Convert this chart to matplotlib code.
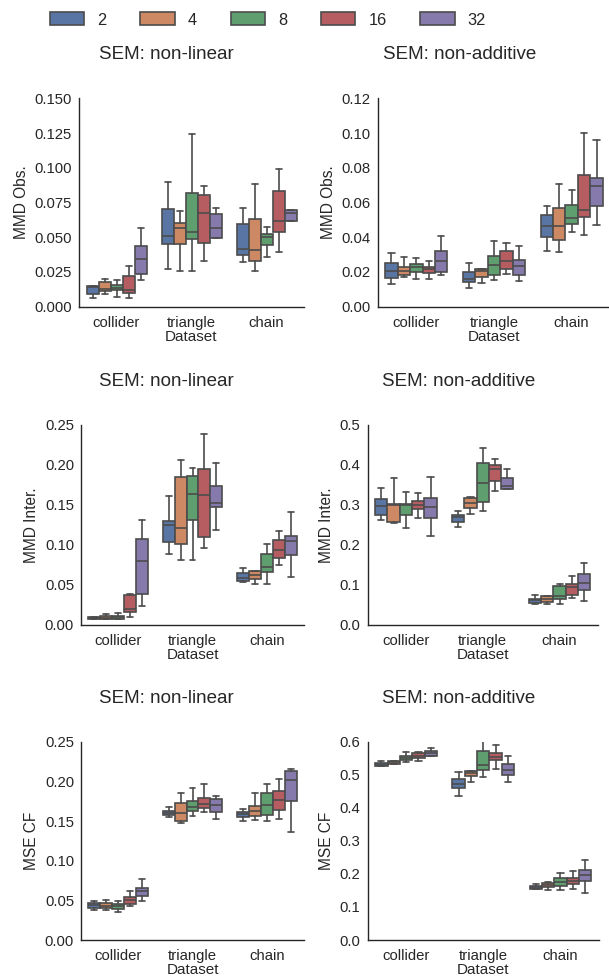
import colorsys

import matplotlib.pyplot as plt
import matplotlib.colors as mcolors
from matplotlib.patches import Patch
import seaborn as sns

datasets = ["collider", "triangle", "chain"]
hue_levels = ["2", "4", "8", "16", "32"]

# five-number summaries per (dataset, hue): whislo, q1, median, q3, whishi
obs_nonlinear = [
    (0.006, 0.009, 0.0145, 0.015, 0.015),
    (0.009, 0.011, 0.013, 0.0175, 0.020),
    (0.007, 0.012, 0.0137, 0.0156, 0.019),
    (0.006, 0.0096, 0.012, 0.022, 0.0295),
    (0.019, 0.0233, 0.034, 0.044, 0.0564),
    (0.0269, 0.0449, 0.0509, 0.0703, 0.090),
    (0.0257, 0.0449, 0.0564, 0.0605, 0.0689),
    (0.0259, 0.0485, 0.054, 0.0818, 0.1243),
    (0.0326, 0.0456, 0.0677, 0.0806, 0.0871),
    (0.0492, 0.0492, 0.0564, 0.0667, 0.071),
    (0.0324, 0.0372, 0.0413, 0.0593, 0.071),
    (0.0257, 0.0331, 0.0405, 0.0633, 0.0883),
    (0.036, 0.0441, 0.0499, 0.0521, 0.0573),
    (0.0391, 0.054, 0.0617, 0.083, 0.0988),
    (0.0617, 0.0617, 0.0677, 0.0693, 0.0693),
]
obs_nonadditive = [
    (0.0129, 0.0165, 0.0205, 0.0251, 0.0307),
    (0.0169, 0.0184, 0.0207, 0.0228, 0.0284),
    (0.0157, 0.020, 0.023, 0.0246, 0.028),
    (0.0161, 0.0192, 0.0215, 0.0228, 0.0263),
    (0.0184, 0.0198, 0.0263, 0.0322, 0.0409),
    (0.0107, 0.0144, 0.0157, 0.0198, 0.025),
    (0.0136, 0.0169, 0.0203, 0.0215, 0.0215),
    (0.0152, 0.018, 0.024, 0.0292, 0.0378),
    (0.0188, 0.0219, 0.0263, 0.0322, 0.0365),
    (0.0148, 0.0184, 0.0232, 0.0269, 0.0347),
    (0.0319, 0.0403, 0.0463, 0.0526, 0.0582),
    (0.0315, 0.0382, 0.0463, 0.057, 0.0704),
    (0.0432, 0.0474, 0.051, 0.0587, 0.067),
    (0.0415, 0.0514, 0.0559, 0.0756, 0.0998),
    (0.047, 0.0582, 0.0697, 0.0741, 0.0958),
]
inter_nonlinear = [
    (0.0075, 0.0079, 0.0088, 0.010, 0.0104),
    (0.0071, 0.0071, 0.0083, 0.0113, 0.0142),
    (0.0071, 0.0079, 0.010, 0.0117, 0.015),
    (0.0096, 0.0158, 0.0196, 0.0375, 0.0383),
    (0.0242, 0.0388, 0.080, 0.1079, 0.1308),
    (0.0888, 0.1038, 0.1254, 0.130, 0.1617),
    (0.0817, 0.1013, 0.1213, 0.1846, 0.2058),
    (0.0808, 0.1317, 0.1642, 0.1863, 0.1958),
    (0.0958, 0.110, 0.1625, 0.195, 0.2383),
    (0.1192, 0.1475, 0.1529, 0.1742, 0.2029),
    (0.0533, 0.055, 0.0592, 0.065, 0.0713),
    (0.0513, 0.0575, 0.0621, 0.0679, 0.0679),
    (0.0517, 0.0658, 0.0721, 0.0883, 0.1017),
    (0.075, 0.0842, 0.0933, 0.1058, 0.1179),
    (0.0596, 0.0875, 0.105, 0.1117, 0.1417),
]
inter_nonadditive = [
    (0.263, 0.274, 0.297, 0.314, 0.343),
    (0.256, 0.258, 0.300, 0.302, 0.3675),
    (0.243, 0.274, 0.300, 0.3025, 0.3325),
    (0.268, 0.291, 0.301, 0.311, 0.330),
    (0.223, 0.268, 0.294, 0.318, 0.369),
    (0.246, 0.258, 0.271, 0.275, 0.286),
    (0.278, 0.293, 0.305, 0.3175, 0.319),
    (0.285, 0.308, 0.354, 0.404, 0.443),
    (0.334, 0.359, 0.391, 0.401, 0.415),
    (0.341, 0.341, 0.348, 0.3675, 0.389),
    (0.052, 0.055, 0.0617, 0.065, 0.076),
    (0.053, 0.058, 0.066, 0.073, 0.073),
    (0.052, 0.065, 0.0717, 0.0967, 0.1017),
    (0.0667, 0.074, 0.095, 0.103, 0.1217),
    (0.060, 0.0867, 0.1058, 0.1267, 0.154),
]
cf_nonlinear = [
    (0.0382, 0.0408, 0.0441, 0.0466, 0.049),
    (0.0378, 0.0403, 0.0433, 0.0462, 0.050),
    (0.0349, 0.0395, 0.0433, 0.0454, 0.049),
    (0.0429, 0.045, 0.0508, 0.0546, 0.0622),
    (0.0492, 0.055, 0.0622, 0.0651, 0.0765),
    (0.1555, 0.157, 0.1605, 0.163, 0.168),
    (0.1479, 0.1496, 0.1597, 0.1723, 0.1857),
    (0.1563, 0.163, 0.168, 0.1748, 0.1916),
    (0.1609, 0.166, 0.171, 0.179, 0.1962),
    (0.1525, 0.1609, 0.1697, 0.1782, 0.1815),
    (0.1504, 0.155, 0.1584, 0.1609, 0.1655),
    (0.1513, 0.1559, 0.163, 0.1693, 0.1849),
    (0.1496, 0.1571, 0.1702, 0.1853, 0.197),
    (0.1521, 0.1639, 0.1765, 0.1874, 0.2034),
    (0.1366, 0.1748, 0.2013, 0.213, 0.2151),
]
cf_nonadditive = [
    (0.525, 0.527, 0.531, 0.5353, 0.543),
    (0.533, 0.533, 0.538, 0.542, 0.543),
    (0.538, 0.544, 0.552, 0.558, 0.5695),
    (0.541, 0.550, 0.558, 0.5655, 0.5675),
    (0.558, 0.558, 0.5665, 0.5716, 0.5796),
    (0.4345, 0.4587, 0.471, 0.486, 0.509),
    (0.479, 0.495, 0.505, 0.512, 0.512),
    (0.494, 0.515, 0.528, 0.5706, 0.602),
    (0.517, 0.544, 0.553, 0.5645, 0.5897),
    (0.478, 0.500, 0.514, 0.534, 0.5565),
    (0.153, 0.154, 0.160, 0.1643, 0.169),
    (0.151, 0.160, 0.167, 0.173, 0.175),
    (0.151, 0.162, 0.176, 0.1885, 0.2016),
    (0.155, 0.169, 0.180, 0.1885, 0.2097),
    (0.141, 0.180, 0.1956, 0.2117, 0.242),
]

panels = [
    (obs_nonlinear, "SEM: non-linear", "MMD Obs.", 0.150, [0, 0.025, 0.05, 0.075, 0.1, 0.125, 0.15], "{:.3f}"),
    (obs_nonadditive, "SEM: non-additive", "MMD Obs.", 0.12, [0, 0.02, 0.04, 0.06, 0.08, 0.1, 0.12], "{:.2f}"),
    (inter_nonlinear, "SEM: non-linear", "MMD Inter.", 0.25, [0, 0.05, 0.1, 0.15, 0.2, 0.25], "{:.2f}"),
    (inter_nonadditive, "SEM: non-additive", "MMD Inter.", 0.5, [0, 0.1, 0.2, 0.3, 0.4, 0.5], "{:.1f}"),
    (cf_nonlinear, "SEM: non-linear", "MSE CF", 0.25, [0, 0.05, 0.1, 0.15, 0.2, 0.25], "{:.2f}"),
    (cf_nonadditive, "SEM: non-additive", "MSE CF", 0.6, [0, 0.1, 0.2, 0.3, 0.4, 0.5, 0.6], "{:.1f}"),
]

# axes boxes in pixels: left, right, top, bottom
boxes_px = [
    (79, 304, 98.3, 306.7), (377.5, 610.5, 98.3, 306.7),
    (81, 304, 425, 625), (367.5, 598, 425, 625),
    (81, 304, 741.7, 940), (367.5, 599, 741.7, 940),
]
title_cx = [166, 460, 166, 459, 166, 459]

sns.set_theme(style="white")
plt.rcParams["font.family"] = ["Liberation Sans", "DejaVu Sans"]

W, H = 609, 976
fig = plt.figure(figsize=(W / 100, H / 100), dpi=100)


def desaturate(color, prop):
    h, l, s = colorsys.rgb_to_hls(*mcolors.to_rgb(color))
    return colorsys.hls_to_rgb(h, l, s * prop)


colors = [desaturate(c, 0.75) for c in sns.color_palette("deep", 5)]
lum = min(colorsys.rgb_to_hls(*c)[1] for c in colors) * 0.6
gray = (lum, lum, lum)
lw = 1.2
width = 0.8 / len(hue_levels)

for (stats, title, ylabel, ytop, yticks, fmt), (l, r, t, b), cx in zip(panels, boxes_px, title_cx):
    ax = fig.add_axes([l / W, 1 - b / H, (r - l) / W, (b - t) / H])
    for i, ds in enumerate(datasets):
        for j, hue in enumerate(hue_levels):
            lo, q1, med, q3, hi = stats[i * len(hue_levels) + j]
            pos = i - 0.4 + width * (j + 0.5)
            ax.bxp([dict(whislo=lo, q1=q1, med=med, q3=q3, whishi=hi, fliers=[])],
                   positions=[pos], widths=width, patch_artist=True, showfliers=False,
                   boxprops=dict(facecolor=colors[j], edgecolor=gray, linewidth=lw),
                   medianprops=dict(color=gray, linewidth=lw),
                   whiskerprops=dict(color=gray, linewidth=lw),
                   capprops=dict(color=gray, linewidth=lw))
    ax.set_xlim(-0.5, len(datasets) - 0.5)
    ax.set_ylim(0, ytop)
    ax.set_xticks(range(len(datasets)))
    ax.set_xticklabels(datasets)
    ax.set_yticks(yticks)
    ax.set_yticklabels([fmt.format(v) for v in yticks])
    ax.tick_params(length=0, labelsize=10.7, colors="#262626")
    ax.tick_params(axis="x", pad=6.5)
    ax.tick_params(axis="y", pad=5)
    ax.set_xlabel("Dataset", fontsize=11, labelpad=0, color="#262626")
    ax.set_ylabel(ylabel, fontsize=11.2, color="#262626")
    ax.set_title(title, fontsize=13.5, x=(cx - l) / (r - l), pad=28, color="#262626")
    for side in ("top", "right"):
        ax.spines[side].set_visible(False)
    for side in ("left", "bottom"):
        ax.spines[side].set_color("#262626")
        ax.spines[side].set_linewidth(1.0)

handles = [Patch(facecolor=c, edgecolor=gray, linewidth=lw, label=h)
           for c, h in zip(colors, hue_levels)]
fig.legend(handles=handles, loc="center", bbox_to_anchor=(268 / W, 1 - 20 / H),
           ncol=5, frameon=False, fontsize=11.8, handlelength=2.1,
           handleheight=0.85, handletextpad=0.8, columnspacing=2.05)

fig.savefig("out.png", dpi=100)
